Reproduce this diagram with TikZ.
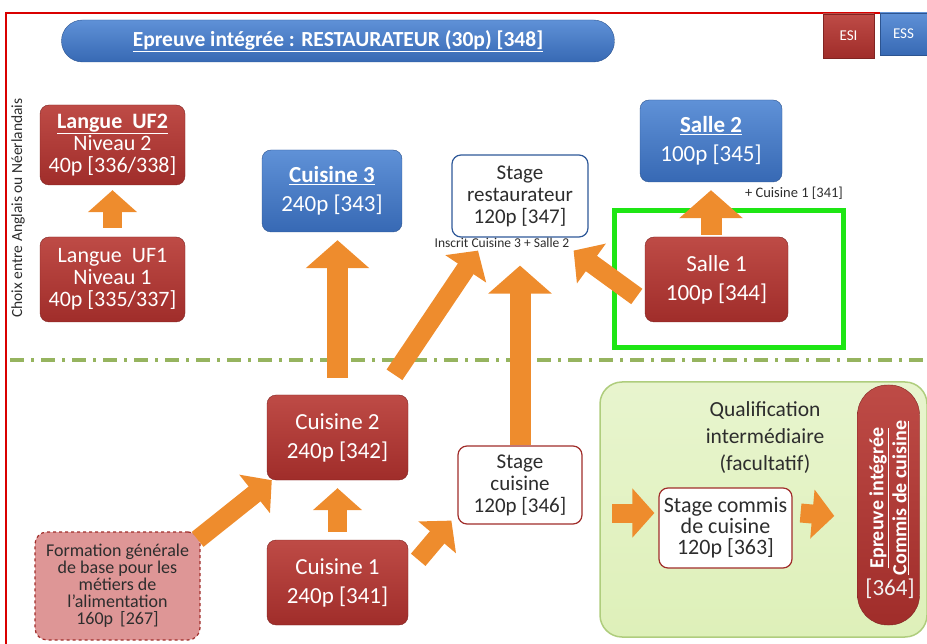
\documentclass[tikz,border=0pt]{standalone}
\usepackage{fontspec}
\setmainfont{Carlito}
\usetikzlibrary{arrows.meta,positioning,calc}
\definecolor{boxred}{RGB}{160,45,42}
\definecolor{boxredtop}{RGB}{190,75,70}
\definecolor{boxblue}{RGB}{55,105,180}
\definecolor{boxbluetop}{RGB}{95,145,215}
\definecolor{arrowor}{RGB}{238,140,45}
\definecolor{sepgreen}{RGB}{150,180,95}
\definecolor{hlgreen}{RGB}{30,230,20}
\definecolor{qualfill}{RGB}{222,240,185}
\definecolor{qualdraw}{RGB}{175,205,125}
\definecolor{pinkfill}{RGB}{222,150,150}
\definecolor{txtgray}{RGB}{45,45,45}
\newcommand\boxfont{\fontsize{23}{29}\selectfont}
\newcommand\stagefont{\fontsize{21}{22}\selectfont}
\tikzset{
  redbox/.style={rounded corners=9pt,draw=boxred!80!black,top color=boxredtop,bottom color=boxred,
    text=white,align=center,font=\boxfont,inner sep=2pt},
  bluebox/.style={rounded corners=9pt,draw=boxblue!80!black,top color=boxbluetop,bottom color=boxblue,
    text=white,align=center,font=\boxfont,inner sep=2pt},
  stagebox/.style={rounded corners=9pt,fill=white,line width=1.2pt,text=txtgray,align=center,
    font=\stagefont,inner sep=2pt},
  bigarrow/.style={draw=arrowor,line width=19pt,-{Triangle[width=48pt,length=22pt]}},
  longarrow/.style={draw=arrowor,line width=21pt,-{Triangle[width=62pt,length=28pt]}},
  smalltext/.style={font=\fontsize{13.5}{14}\selectfont,text=txtgray}
}
\begin{document}
\begin{tikzpicture}[x=1pt,y=-1pt]
	\useasboundingbox (0,0) rectangle (927,644);
	% frame and separation
	\draw[red!85!black,line width=2.5pt] (927,13)--(6,13)--(6,644);
	\draw[sepgreen,line width=4pt,dash pattern=on 14pt off 7pt on 3pt off 7pt] (10,360)--(927,360);
	% title and legend
	\node[bluebox,rounded corners=21pt,minimum width=553pt,minimum height=42pt,font=\bfseries\fontsize{21.5}{22}\selectfont] (title) at (338,41)
		{\underline{Epreuve intégrée : RESTAURATEUR (30p) [348]}};
	\node[redbox,rounded corners=0pt,minimum width=51pt,minimum height=44pt,font=\fontsize{15}{16}\selectfont] (esi) at (848.5,36) {ESI};
	\node[bluebox,rounded corners=0pt,minimum width=47pt,minimum height=42pt,font=\fontsize{15}{16}\selectfont] (ess) at (903.5,34) {ESS};
	% langues
	\node[rotate=90,text=txtgray,font=\fontsize{15.5}{16}\selectfont] (choix) at (18,208) {Choix entre Anglais ou Néerlandais};
	\node[redbox,minimum width=145pt,minimum height=80pt,font=\fontsize{22}{22}\selectfont] (uf2) at (112.5,145)
		{\textbf{\underline{Langue\ \ UF2}}\\Niveau 2\\40p [336/338]};
	\node[redbox,minimum width=145pt,minimum height=85pt,font=\fontsize{22}{22}\selectfont] (uf1) at (112.5,279.5)
		{Langue\ \ UF1\\Niveau 1\\40p [335/337]};
	% upper level
	\node[bluebox,minimum width=140pt,minimum height=82pt] (cuis3) at (332,191) {\textbf{\underline{Cuisine 3}}\\240p [343]};
	\node[stagebox,draw=boxblue!85!black,minimum width=136pt,minimum height=82pt] (stagerest) at (520,196)
		{Stage\\restaurateur\\120p [347]};
	\node[smalltext] (inscrit) at (502,243) {Inscrit Cuisine 3 + Salle 2};
	\node[smalltext,font=\fontsize{14.5}{15}\selectfont] (plus) at (794,193) {+ Cuisine 1 [341]};
	\node[bluebox,minimum width=142pt,minimum height=82pt] (salle2) at (711,141) {\textbf{\underline{Salle 2}}\\100p [345]};
	\node[redbox,minimum width=143pt,minimum height=85pt] (salle1) at (716.5,279.5) {Salle 1\\100p [344]};
	\draw[hlgreen,line width=5pt] (614,211) rectangle (843,348);
	% lower level
	\node[redbox,minimum width=141pt,minimum height=85pt] (cuis2) at (337.5,437.5) {Cuisine 2\\240p [342]};
	\node[redbox,minimum width=141pt,minimum height=85pt] (cuis1) at (337.5,582.5) {Cuisine 1\\240p [341]};
	\node[stagebox,draw=boxred,minimum width=124pt,minimum height=78pt] (stagecuis) at (520,485)
		{Stage\\cuisine\\120p [346]};
	\node[rounded corners=12pt,draw=boxred,dashed,line width=1.2pt,fill=pinkfill,minimum width=165pt,minimum height=108pt,
		text=txtgray,align=center,font=\fontsize{18}{17}\selectfont] (formation) at (117.5,586)
		{Formation générale\\de base pour les\\métiers de\\l'alimentation\\160p\ \,[267]};
	% qualification
	\draw[qualdraw,line width=1.5pt,rounded corners=22pt,top color=qualfill!70!white,bottom color=qualfill] (600,382) rectangle (927,637);
	\node[text=txtgray,align=center,font=\fontsize{21.5}{27}\selectfont] (qualtext) at (765,438)
		{Qualification\\intermédiaire\\(facultatif)};
	\node[stagebox,draw=boxred,minimum width=133pt,minimum height=80pt,font=\fontsize{22}{21}\selectfont] (stagecom) at (725.5,528)
		{Stage commis\\de cuisine\\120p [363]};
	\node[redbox,rounded corners=30pt,minimum width=62pt,minimum height=240pt] (epreuve) at (888.5,505) {};
	\node[rotate=90,text=white,align=center,font=\bfseries\fontsize{20}{23}\selectfont] (eptext) at (889,498)
		{\underline{Epreuve intégrée}\\\underline{Commis de cuisine}};
	\node[text=white!90!gray,font=\fontsize{23}{23}\selectfont] (epnum) at (890,589) {[364]};
	\coordinate (qin) at (612,513);
	% arrows
	\draw[bigarrow] ([yshift=9pt]uf1.north) -- ([yshift=-5pt]uf2.south);
	\draw[bigarrow] ([yshift=8pt]cuis1.north) -- ([yshift=-8pt]cuis2.south);
	\draw[longarrow] ([yshift=17pt]cuis2.north) -- ([yshift=-8pt]cuis2.north |- cuis3.south);
	\draw[bigarrow] ([xshift=57pt,yshift=20pt]cuis2.north) -- ([xshift=-42pt,yshift=-13pt]stagerest.south);
	\draw[longarrow] (stagecuis.north) -- ([yshift=-28pt]stagerest.south);
	\draw[bigarrow] ([xshift=-8pt,yshift=-17pt]salle1.west) -- ([xshift=-15pt,yshift=-13pt]stagerest.south east);
	\draw[longarrow] ([yshift=2pt]salle2.south |- salle1.north) -- ([yshift=-8pt]salle2.south);
	\draw[bigarrow] ([xshift=-3pt,yshift=-8pt]formation.north east) -- ([xshift=5pt]cuis2.south west);
	\draw[bigarrow] ([xshift=10pt,yshift=-20pt]cuis1.north east) -- ([xshift=-6pt,yshift=4pt]stagecuis.south west);
	\draw[bigarrow] (qin) -- ([xshift=-4pt,yshift=15pt]stagecom.west);
	\draw[bigarrow] ([xshift=8pt,yshift=15pt]stagecom.east) -- ([xshift=-23pt,yshift=-11pt]epreuve.west);
\end{tikzpicture}
\end{document}
